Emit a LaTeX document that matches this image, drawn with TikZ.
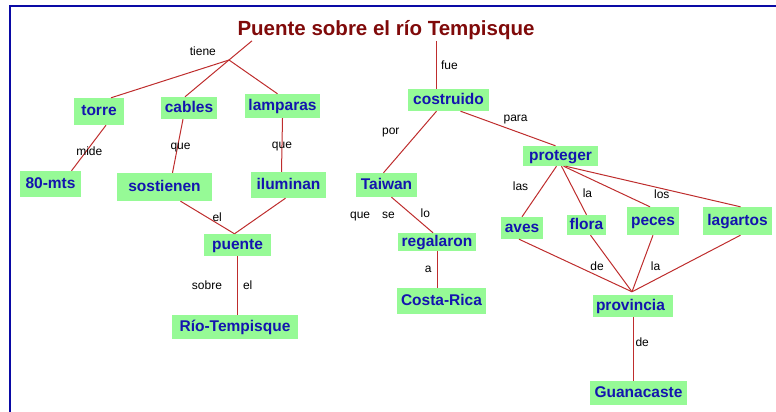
\documentclass[tikz,border=0pt]{standalone}
\usepackage{fontspec}
\setmainfont{Liberation Sans}
\usetikzlibrary{positioning}
\definecolor{mapaVerde}{RGB}{150,250,150}
\definecolor{mapaAzul}{RGB}{20,20,175}
\definecolor{mapaRojo}{RGB}{190,45,45}
\definecolor{mapaGranate}{RGB}{128,10,10}
\definecolor{mapaBorde}{RGB}{10,10,165}
\tikzstyle{concepto} = [fill=mapaVerde, text=mapaAzul, font=\fontsize{15.5}{18}\selectfont\bfseries, inner sep=0pt, text height=11pt, text depth=3pt, minimum height=22pt]
\tikzstyle{enlace} = [draw=mapaRojo, line width=1pt]
\tikzstyle{etiq} = [font=\fontsize{12}{14}\selectfont, text=black, inner sep=1pt]

\begin{document}
\begin{tikzpicture}[x=1pt, y=-1pt]
        \useasboundingbox (0,0) rectangle (776,412);
        % Marco
        \draw [mapaBorde, line width=2pt] (10,412) -- (10,6) -- (776,6);

        % Titulo
        \node [font=\fontsize{20.5}{24}\selectfont\bfseries, text=mapaGranate, inner sep=1pt] (titulo) at (386,30) {Puente sobre el río Tempisque};

        % Conceptos
        \node [concepto, minimum width=50pt, minimum height=27pt] (torre) at (99,111.5) {torre};
        \node [concepto, minimum width=56pt] (cables) at (189,108) {cables};
        \node [concepto, minimum width=75pt, minimum height=24pt] (lamparas) at (282.5,106) {lamparas};
        \node [concepto, minimum width=61pt, minimum height=26pt] (mts) at (50.5,184) {80-mts};
        \node [concepto, minimum width=95pt, minimum height=28pt] (sostienen) at (164.5,187) {sostienen};
        \node [concepto, minimum width=75pt, minimum height=26pt] (iluminan) at (288.5,185) {iluminan};
        \node [concepto, minimum width=67pt] (puente) at (237.5,245) {puente};
        \node [concepto, minimum width=126pt, minimum height=24pt] (rio) at (235,327) {Río-Tempisque};

        \node [concepto, minimum width=81pt] (costruido) at (448.5,100) {costruido};
        \node [concepto, minimum width=61pt, minimum height=24pt] (taiwan) at (386.5,185) {Taiwan};
        \node [concepto, minimum width=78pt, minimum height=18pt] (regalaron) at (437,242) {regalaron};
        \node [concepto, minimum width=89pt, minimum height=26pt] (costarica) at (441.5,301) {Costa-Rica};

        \node [concepto, minimum width=75pt, minimum height=20pt] (proteger) at (560.5,156) {proteger};
        \node [concepto, minimum width=42pt] (aves) at (522,228) {aves};
        \node [concepto, minimum width=39pt, minimum height=20pt] (flora) at (586.5,225) {flora};
        \node [concepto, minimum width=52pt, minimum height=28pt] (peces) at (653,221) {peces};
        \node [concepto, minimum width=69pt, minimum height=28pt] (lagartos) at (737.5,221) {lagartos};
        \node [concepto, text width=74pt, inner xsep=3pt, align=left] (provincia) at (633,306) {provincia};
        \node [concepto, minimum width=97pt, minimum height=24pt] (guanacaste) at (638.5,393) {Guanacaste};

        % Puntos de union
        \coordinate (tJ) at (229,60);
        \coordinate (pJ) at ([xshift=-1pt,yshift=3pt]provincia.north);

        % Enlaces
        \draw [enlace] ([xshift=-134pt]titulo.south) -- node[etiq, pos=0.55, left=22pt]{tiene} (tJ);
        \draw [enlace] (tJ) -- ([xshift=12pt]torre.north);
        \draw [enlace] (tJ) -- ([xshift=-4pt]cables.north);
        \draw [enlace] (tJ) -- ([xshift=-5pt]lamparas.north);
        \draw [enlace] ([xshift=7pt]torre.south) -- node[etiq, pos=0.57, xshift=3pt]{mide} ([xshift=21pt]mts.north);
        \draw [enlace] ([xshift=-6pt]cables.south) -- node[etiq, pos=0.52, xshift=3pt]{que} ([xshift=8pt]sostienen.north);
        \draw [enlace] (lamparas.south) -- node[etiq, pos=0.52]{que} ([xshift=-7pt]iluminan.north);
        \draw [enlace] ([xshift=16pt]sostienen.south) -- node[etiq, pos=0.68, above]{el} ([xshift=-3pt]puente.north);
        \draw [enlace] ([xshift=-3pt]iluminan.south) -- ([xshift=-3pt]puente.north);
        \draw [enlace] (puente.south) -- node[etiq, left=14pt]{sobre} node[etiq, right=4pt]{el} (puente.south |- rio.north);

        \draw [enlace] ([xshift=-12pt]costruido.north |- titulo.south) -- node[etiq, right=3pt]{fue} ([xshift=-12pt]costruido.north);
        \draw [enlace] ([xshift=-12pt]costruido.south) -- node[etiq, pos=0.35, left=17pt]{por} ([xshift=-3pt]taiwan.north);
        \draw [enlace] ([xshift=12pt]costruido.south) -- node[etiq, pos=0.58, above=6pt]{para} ([xshift=-5pt]proteger.north);
        \draw [enlace] ([xshift=5pt]taiwan.south) -- node[etiq, pos=0.55, left=18pt]{que\hspace{12pt}se} node[etiq, pos=0.45, right=9pt]{lo} ([xshift=-4pt]regalaron.north);
        \draw [enlace] (regalaron.south) -- node[etiq, left=4pt]{a} (regalaron.south |- costarica.north);

        \draw [enlace] ([xshift=-4pt]proteger.south) -- node[etiq, pos=0.4, left=13pt]{las} (aves.north);
        \draw [enlace] ([xshift=1pt]proteger.south) -- node[etiq, pos=0.55, right=6pt]{la} (flora.north);
        \draw [enlace] ([xshift=3pt]proteger.south) -- ([xshift=-3pt]peces.north);
        \draw [enlace] ([xshift=5pt]proteger.south) -- node[etiq, pos=0.55, below]{los} ([xshift=3pt]lagartos.north);
        \draw [enlace] ([xshift=-3pt]aves.south) -- (pJ);
        \draw [enlace] ([xshift=4pt]flora.south) -- node[etiq, pos=0.55, left=8pt]{de} (pJ);
        \draw [enlace] (peces.south) -- node[etiq, pos=0.55, right=8pt]{la} (pJ);
        \draw [enlace] ([xshift=3pt]lagartos.south) -- (pJ);
        \draw [enlace] (provincia.south) -- node[etiq, pos=0.4, right=1pt]{de} (provincia.south |- guanacaste.north);
\end{tikzpicture}
\end{document}
